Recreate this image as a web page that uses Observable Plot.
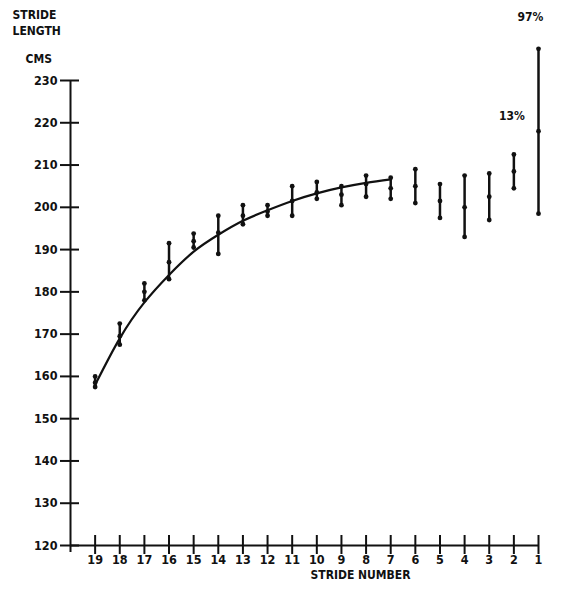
<!DOCTYPE html>
<html>
<head>
<meta charset="utf-8">
<script src="https://cdn.jsdelivr.net/npm/d3@7"></script>
<script src="https://cdn.jsdelivr.net/npm/@observablehq/plot@0.6"></script>
<style>
  body { margin: 0; background: #fff; }
  svg { font-family: "DejaVu Sans Condensed", "DejaVu Sans", sans-serif; font-stretch: condensed; font-weight: bold; }
</style>
</head>
<body>
<div id="chart"></div>
<script>
// Stride number (19 = earliest, 1 = last before take-off)
const strides = [19, 18, 17, 16, 15, 14, 13, 12, 11, 10, 9, 8, 7, 6, 5, 4, 3, 2, 1];
// Mean stride length (cm) and range ends
const means = [158.5, 169.5, 180, 187, 192, 194, 198, 199, 201.5, 203.5, 203, 205.5, 204.5, 205, 201.5, 200, 202.5, 208.5, 218];
const lows  = [157.5, 167.5, 178, 183, 190.5, 189, 196, 198, 198, 202, 200.5, 202.5, 202, 201, 197.5, 193, 197, 204.5, 198.5];
const highs = [160, 172.5, 182, 191.5, 193.8, 198, 200.5, 200.5, 205, 206, 205, 207.5, 207, 209, 205.5, 207.5, 208, 212.5, 237.5];

// Fitted curve (strides 19..7)
const curveStrides = [19, 18, 17, 16, 15, 14, 13, 12, 11, 10, 9, 8, 7];
const curveValues  = [158, 169, 177.5, 184, 189.5, 193.5, 196.8, 199.3, 201.5, 203.3, 204.7, 205.8, 206.6];

// Annotations
const noteText    = ["13%", "97%"];
const noteStrides = [2, 1];
const noteValues  = [221.5, 245];

const yTicks = [120, 130, 140, 150, 160, 170, 180, 190, 200, 210, 220, 230];
const xTicks = strides;

const data = strides.map((s, i) => ({stride: s, mean: means[i], lo: lows[i], hi: highs[i]}));
const curve = curveStrides.map((s, i) => ({stride: s, value: curveValues[i]}));
const notes = noteText.map((t, i) => ({text: t, stride: noteStrides[i], value: noteValues[i]}));
const ends = data.flatMap(d => [{stride: d.stride, v: d.lo}, {stride: d.stride, v: d.hi}, {stride: d.stride, v: d.mean}]);

const plot = Plot.plot({
  width: 569,
  height: 592,
  marginLeft: 70,
  marginRight: 31,
  marginTop: 80,
  marginBottom: 47,
  style: {fontSize: "12px", color: "#111", background: "#fff"},
  x: {domain: [20, 1], axis: null},
  y: {domain: [120, 230], axis: null},
  marks: [
    // axis lines
    Plot.ruleX([20], {y1: 230, y2: 120, insetBottom: -7, stroke: "#111", strokeWidth: 2}),
    Plot.ruleY([120], {x1: 20, x2: 1, stroke: "#111", strokeWidth: 2}),
    // y axis ticks crossing the axis, labels left
    Plot.axisY(yTicks, {anchor: "left", tickSize: 19, dx: 9, tickPadding: 3, strokeWidth: 2, label: null, fontSize: 12.5, fontWeight: "bold"}),
    // x axis ticks crossing the axis, labels below
    Plot.axisX(xTicks, {anchor: "bottom", tickSize: 19, dy: -10, tickPadding: 1, strokeWidth: 2, label: null, fontSize: 12.5, fontWeight: "bold"}),
    Plot.text(["STRIDE NUMBER"], {frameAnchor: "bottom", dx: 56, dy: 33, fontSize: 12, fontWeight: "bold"}),
    // y axis title
    Plot.text(["STRIDE\nLENGTH"], {frameAnchor: "top-left", dx: -58, dy: -73, textAnchor: "start", lineAnchor: "top", fontSize: 12, fontWeight: "bold", lineHeight: 1.35}),
    Plot.text(["CMS"], {frameAnchor: "top-left", dx: -45, dy: -26, textAnchor: "start", fontSize: 12, fontWeight: "bold"}),
    // fitted curve
    Plot.line(curve, {x: "stride", y: "value", curve: "natural", stroke: "#111", strokeWidth: 2.2}),
    // range bars
    Plot.ruleX(data, {x: "stride", y1: "lo", y2: "hi", stroke: "#111", strokeWidth: 2.5}),
    Plot.dot(ends, {x: "stride", y: "v", r: 2.4, fill: "#111"}),
    // annotations
    Plot.text(notes.filter(d => d.stride === 2), {x: "stride", y: "value", text: "text", dx: -2, textAnchor: "middle", fontSize: 12, fontWeight: "bold", clip: false}),
    Plot.text(notes.filter(d => d.stride === 1), {x: "stride", y: "value", text: "text", dx: -8, textAnchor: "middle", fontSize: 12, fontWeight: "bold", clip: false})
  ]
});
document.getElementById("chart").appendChild(plot);
</script>
</body>
</html>
